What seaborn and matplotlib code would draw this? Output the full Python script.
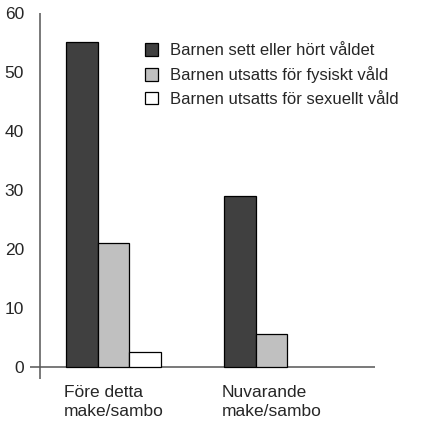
import matplotlib
matplotlib.use("Agg")
import matplotlib.pyplot as plt
import seaborn as sns
import pandas as pd

categories = ["Före detta\nmake/sambo", "Nuvarande\nmake/sambo"]
series = ["Barnen sett eller hört våldet",
          "Barnen utsatts för fysiskt våld",
          "Barnen utsatts för sexuellt våld"]
seen = [55, 29]
physical = [21, 5.5]
sexual = [2.4, 0]
colors = ["#404040", "#c0c0c0", "#ffffff"]
yticks = [0, 10, 20, 30, 40, 50, 60]

rows = []
for s, vals in zip(series, [seen, physical, sexual]):
    for c, v in zip(categories, vals):
        rows.append({"cat": c, "series": s, "value": v})
df = pd.DataFrame(rows)

sns.set_style("white")
plt.rcParams["font.family"] = ["Liberation Sans", "DejaVu Sans"]

fig = plt.figure(figsize=(4.25, 4.25), dpi=100)
ax = fig.add_axes([30/425, 46/425, 345/425, 366/425])

sns.barplot(data=df, x="cat", y="value", hue="series", order=categories,
            hue_order=series, palette=colors, width=0.6, edgecolor="black",
            linewidth=0.9, ax=ax, errorbar=None, saturation=1)
for p in ax.patches:
    if p.get_height() == 0:
        p.set_linewidth(0)

ax.set_xlim(-0.528, 1.655)
ax.set_ylim(-2.1, 60)
for sp in ax.spines.values():
    sp.set_visible(False)
ax.axhline(0, color="#555555", lw=1.1, zorder=0.5)
ax.axvline(-0.465, color="#555555", lw=1.1, zorder=0.5)

ax.set_yticks(yticks)
ax.set_yticklabels([str(t) for t in yticks], fontsize=12.5)
ax.tick_params(axis="y", length=0, pad=4.3)
ax.tick_params(axis="x", length=0, pad=4)
ax.set_xticks(range(len(categories)))
ax.set_xticklabels(categories, fontsize=12.5, multialignment="left",
                   linespacing=1.35)
ax.set_xlabel("")
ax.set_ylabel("")

leg = ax.legend(loc="upper left", bbox_to_anchor=(145/425, 1 - 43/425),
                bbox_transform=fig.transFigure, frameon=False, fontsize=12,
                handlelength=0.78, handleheight=0.78, handletextpad=0.72,
                labelspacing=0.5, borderpad=0, borderaxespad=0)
for h in leg.legend_handles:
    h.set_edgecolor("black")
    h.set_linewidth(0.9)

fig.savefig("out.png", dpi=100)
